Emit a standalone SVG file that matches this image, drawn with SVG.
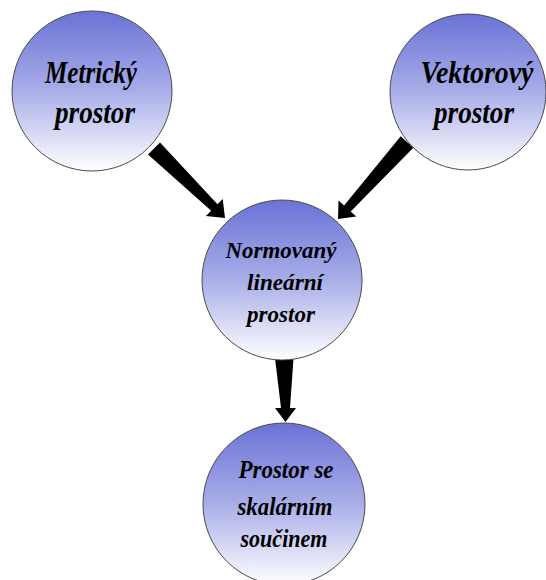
<svg xmlns="http://www.w3.org/2000/svg" width="546" height="580" viewBox="0 0 546 580">
  <defs>
    <linearGradient id="g" x1="0" y1="0" x2="0" y2="1">
      <stop offset="0" stop-color="#6a72d6"/>
      <stop offset="0.5" stop-color="#a9aee8"/>
      <stop offset="1" stop-color="#ffffff"/>
    </linearGradient>
  </defs>
  <style>
    .node circle { fill: url(#g); stroke: #4a4a4a; stroke-width: 1; }
    .node text { font-family: "Liberation Serif", "Times New Roman", serif; font-weight: bold; font-style: italic; fill: #000; text-anchor: middle; }
    .big { font-size: 31px; }
    .mid { font-size: 23px; }
    .sm { font-size: 26px; }
    .conn polygon { fill: #000; stroke: none; }
  </style>
  <rect width="546" height="580" fill="#ffffff"/>
  <g id="connectors" class="conn">
    <polygon points="148,154.6 211.2,210.7 205.9,216.1 225,218 222.7,198.9 217.5,204.3 160,142.4"/>
    <polygon points="400.7,136.3 344.1,205.6 338.5,200.6 338,219 356.3,216.6 350.7,211.6 413.3,147.7"/>
    <polygon points="275,358 281,408 275,408 285.5,422 296,408 290,408 293.5,358"/>
  </g>
  <g id="metricky" class="node">
    <circle cx="92" cy="91" r="80"/>
    <text class="big" x="91" y="83" textLength="92" lengthAdjust="spacingAndGlyphs">Metrický</text>
    <text class="big" x="95" y="123" textLength="80" lengthAdjust="spacingAndGlyphs">prostor</text>
  </g>
  <g id="vektorovy" class="node">
    <circle cx="468" cy="92" r="78"/>
    <text class="big" x="477" y="83" textLength="113" lengthAdjust="spacingAndGlyphs">Vektorový</text>
    <text class="big" x="474" y="123" textLength="80" lengthAdjust="spacingAndGlyphs">prostor</text>
  </g>
  <g id="normovany" class="node">
    <circle cx="282" cy="280" r="80"/>
    <text class="mid" x="281" y="258" textLength="111" lengthAdjust="spacingAndGlyphs">Normovaný</text>
    <text class="mid" x="285" y="290" textLength="76" lengthAdjust="spacingAndGlyphs">lineární</text>
    <text class="mid" x="281" y="322" textLength="68" lengthAdjust="spacingAndGlyphs">prostor</text>
  </g>
  <g id="skalarni" class="node">
    <circle cx="284" cy="504" r="81"/>
    <text class="sm" x="286" y="478" textLength="95" lengthAdjust="spacingAndGlyphs">Prostor se</text>
    <text class="sm" x="285" y="515" textLength="95" lengthAdjust="spacingAndGlyphs">skalárním</text>
    <text class="sm" x="284" y="547" textLength="87" lengthAdjust="spacingAndGlyphs">součinem</text>
  </g>
</svg>
